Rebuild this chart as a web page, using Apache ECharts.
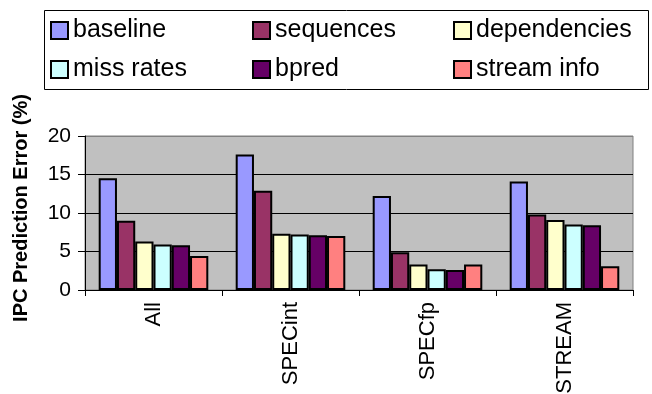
<!DOCTYPE html>
<html>
<head>
<meta charset="utf-8">
<script src="https://cdn.jsdelivr.net/npm/echarts@6/dist/echarts.min.js"></script>
<style>html,body{margin:0;padding:0;background:#fff;}#c{width:652px;height:394px;}</style>
</head>
<body>
<div id="c"></div>
<script>
var categories = ['All', 'SPECint', 'SPECfp', 'STREAM'];
var seriesNames = ['baseline', 'sequences', 'dependencies', 'miss rates', 'bpred', 'stream info'];
var baseline = [14.5, 17.6, 12.2, 14.1];
var sequences = [9.0, 12.9, 4.9, 9.8];
var dependencies = [6.3, 7.3, 3.3, 9.1];
var missRates = [5.9, 7.2, 2.7, 8.5];
var bpred = [5.8, 7.1, 2.6, 8.4];
var streamInfo = [4.4, 7.0, 3.3, 3.1];
var yTicks = [0, 5, 10, 15, 20];
var colors = ['#9999FF', '#993366', '#FFFFCC', '#CCFFFF', '#660066', '#FF8080'];

var values = [baseline, sequences, dependencies, missRates, bpred, streamInfo];
var font = 'Liberation Sans, Arial, sans-serif';

var chart = echarts.init(document.getElementById('c'), null, {renderer: 'canvas'});

function legendCol(names, left) {
  return {
    orient: 'vertical', left: left, top: 18,
    data: names, icon: 'rect', itemWidth: 17, itemHeight: 17, itemGap: 14,
    padding: 0,
    itemStyle: {borderColor: '#000', borderWidth: 2},
    textStyle: {fontFamily: font, fontSize: 25, color: '#000'},
    selectedMode: false
  };
}

chart.setOption({
  animation: false,
  backgroundColor: '#fff',
  color: colors,
  graphic: [{
    type: 'rect', left: 42, top: 8, shape: {width: 604, height: 79},
    style: {fill: 'none', stroke: '#000', lineWidth: 1}, z: 0
  }],
  legend: [
    legendCol([seriesNames[0], seriesNames[3]], 50),
    legendCol([seriesNames[1], seriesNames[4]], 252),
    legendCol([seriesNames[2], seriesNames[5]], 453)
  ],
  grid: {
    left: 85, top: 136, width: 548, height: 154,
    outerBoundsMode: 'none', containLabel: false,
    show: true, backgroundColor: '#C0C0C0', borderColor: '#808080', borderWidth: 1
  },
  xAxis: {
    type: 'category', data: categories,
    axisLine: {lineStyle: {color: '#000', width: 1}},
    axisTick: {show: true, length: 6, lineStyle: {color: '#000'}},
    axisLabel: {rotate: 90, margin: 12, fontFamily: font, fontSize: 22, color: '#000'}
  },
  yAxis: {
    type: 'value', min: yTicks[0], max: yTicks[yTicks.length - 1], interval: 5,
    name: 'IPC Prediction Error (%)', nameLocation: 'middle', nameGap: 54,
    nameTextStyle: {fontFamily: font, fontSize: 20, fontWeight: 'bold', color: '#000', padding: [0, 0, 0, 10]},
    axisLine: {show: true, lineStyle: {color: '#000', width: 1}},
    axisTick: {show: true, length: 7, lineStyle: {color: '#000'}},
    axisLabel: {margin: 14, fontFamily: font, fontSize: 21, color: '#000'},
    splitLine: {show: true, lineStyle: {color: ['#000', '#000', '#000', '#000', '#808080'], width: 1}}
  },
  series: seriesNames.map(function (n, i) {
    return {
      name: n, type: 'bar', data: values[i],
      barGap: '0%', barCategoryGap: '20%',
      itemStyle: {color: colors[i], borderColor: '#000', borderWidth: 2}
    };
  })
});
</script>
</body>
</html>
